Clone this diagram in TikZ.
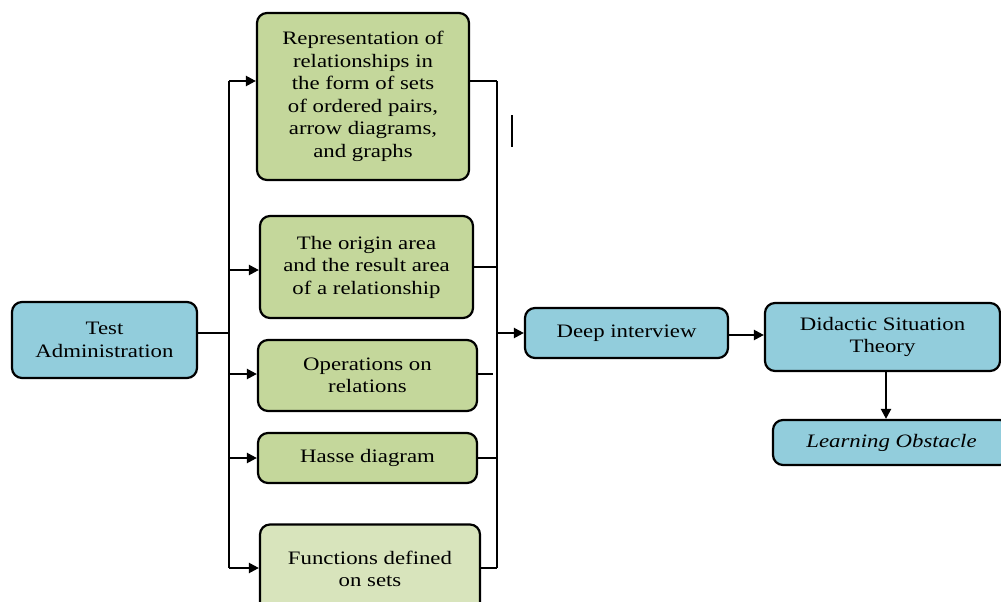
\documentclass[tikz,border=0pt]{standalone}
\usepackage{fontspec}
\setmainfont{Liberation Serif}[FakeStretch=1.2]
\usetikzlibrary{arrows.meta}
\definecolor{boxblue}{HTML}{92CDDC}
\definecolor{boxgreen}{HTML}{C4D79B}
\definecolor{boxlight}{HTML}{D8E4BC}
\begin{document}
\begin{tikzpicture}[x=1pt,y=-1pt,
  box/.style={draw=black,line width=2.2pt,rounded corners=10pt,align=center,inner sep=2pt,
    font=\fontsize{19}{22.5}\selectfont},
  bluebox/.style={box,fill=boxblue},
  greenbox/.style={box,fill=boxgreen},
  lightbox/.style={box,fill=boxlight},
  conn/.style={line width=2.2pt},
  arr/.style={conn,-{Triangle[length=10pt,width=10pt]}}]
\useasboundingbox (0,0) rectangle (1001,602);
\fill[white] (0,0) rectangle (1001,602);
\clip (0,0) rectangle (1001,602);

\node[bluebox,minimum width=185pt,minimum height=76pt] (test) at (104.5,340) {Test\\Administration};
\node[greenbox,minimum width=212pt,minimum height=167pt] (r1) at (363,96.5)
  {Representation of\\relationships in\\the form of sets\\of ordered pairs,\\arrow diagrams,\\and graphs};
\node[greenbox,minimum width=213pt,minimum height=102pt] (r2) at (366.5,267)
  {The origin area\\and the result area\\of a relationship};
\node[greenbox,minimum width=219pt,minimum height=71pt] (r3) at (367.5,375.5)
  {Operations on\\relations};
\node[greenbox,minimum width=219pt,minimum height=50pt] (r4) at (367.5,458)
  {Hasse diagram};
\node[lightbox,minimum width=220pt,minimum height=89pt] (r5) at (370,569)
  {Functions defined\\on sets};
\node[bluebox,minimum width=203pt,minimum height=50pt] (deep) at (626.5,333) {Deep interview};
\node[bluebox,minimum width=235pt,minimum height=68pt] (dst) at (882.5,337) {Didactic Situation\\Theory};
\node[bluebox,minimum width=237pt,minimum height=45pt] (lo) at (891.5,442.5) {\itshape Learning Obstacle};

\coordinate (bl1) at (229,81);
\coordinate (bl5) at (229,568);
\coordinate (br1) at (497,81);
\coordinate (br5) at (497,568);

% left bus
\draw[conn] ([yshift=7pt]test.east) -- ([yshift=7pt]test.east -| bl1);
\draw[conn] (bl1) -- (bl5);
\draw[arr] (bl1) -- ([yshift=15.5pt]r1.west);
\draw[arr] ([yshift=-3pt]r2.west -| bl1) -- ([yshift=-3pt]r2.west);
\draw[arr] ([yshift=1.5pt]r3.west -| bl1) -- ([yshift=1.5pt]r3.west);
\draw[arr] (r4.west -| bl1) -- (r4.west);
\draw[arr] (bl5) -- (bl5 -| r5.west);

% right bus
\draw[conn] ([yshift=15.5pt]r1.east) -- (br1);
\draw[conn] (br1) -- (br5);
\draw[conn] (r2.east) -- (r2.east -| br1);
\draw[conn] ([yshift=1.5pt]r3.east) -- ([yshift=1.5pt,xshift=-4pt]r3.east -| br1);
\draw[conn] (r4.east) -- (r4.east -| br1);
\draw[conn] (br5 -| r5.east) -- (br5);

% flow to the right
\draw[arr] (deep.west -| br1) -- (deep.west);
\draw[arr] ([yshift=-2pt]deep.east) -- ([yshift=-2pt]deep.east -| dst.west);
\draw[arr] ([xshift=3.5pt]dst.south) -- ([xshift=3.5pt]dst.south |- lo.north);

% stray mark
\coordinate (m1) at (512,115);
\coordinate (m2) at (512,147);
\draw[line width=1.4pt] (m1) -- (m2);
\end{tikzpicture}
\end{document}
